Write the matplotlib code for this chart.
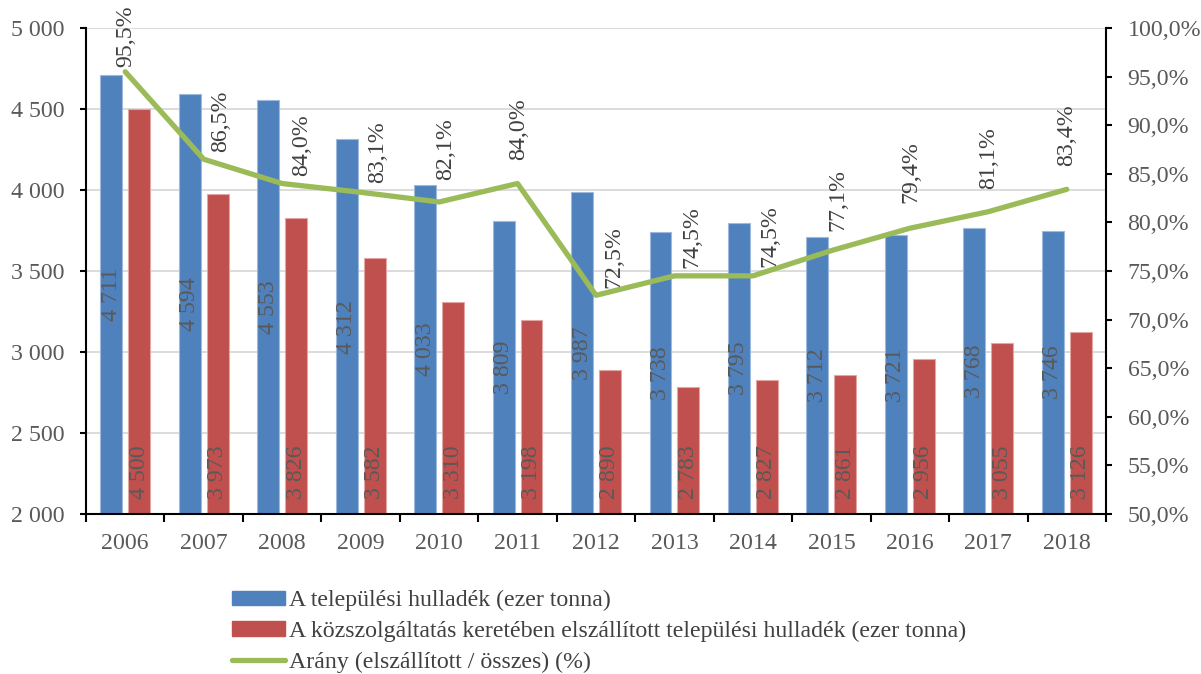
import matplotlib
matplotlib.use("Agg")
import matplotlib.pyplot as plt
import numpy as np
from matplotlib.ticker import FuncFormatter, MultipleLocator, FixedLocator
from matplotlib.patches import Patch
from matplotlib.lines import Line2D

years = ["2006", "2007", "2008", "2009", "2010", "2011", "2012",
         "2013", "2014", "2015", "2016", "2017", "2018"]
total_waste = [4711, 4594, 4553, 4312, 4033, 3809, 3987, 3738, 3795, 3712, 3721, 3768, 3746]
collected_waste = [4500, 3973, 3826, 3582, 3310, 3198, 2890, 2783, 2827, 2861, 2956, 3055, 3126]
ratio_pct = [95.5, 86.5, 84.0, 83.1, 82.1, 84.0, 72.5, 74.5, 74.5, 77.1, 79.4, 81.1, 83.4]

legend_labels = ["A települési hulladék (ezer tonna)",
                 "A közszolgáltatás keretében elszállított települési hulladék (ezer tonna)",
                 "Arány (elszállított / összes) (%)"]

# label offsets (pixels) for the percentage labels
pct_label_offsets = [(1, 5), (17, 7), (19, 8), (17, 9), (7, 22), (1, 24), (18, 7),
                     (17, 8), (17, 9), (6, 20), (1, 25), (0, 23), (0, 23)]

BLUE = "#4F81BD"
RED = "#C0504D"
GREEN = "#9BBB59"
TXT = "#595959"

plt.rcParams['font.family'] = ['Liberation Serif', 'DejaVu Serif']
FS = 17.2

fig = plt.figure(figsize=(12.01, 6.74), dpi=100)
ax = fig.add_axes([86/1201, 1 - 514/674, (1106-86)/1201, (514-28)/674])
ax2 = ax.twinx()

x = np.arange(len(years))
w = 0.28
off = 0.178

def thou(v, pos=None):
    s = f"{int(round(v)):,}".replace(",", " ")
    return s

ax.bar(x - off, total_waste, width=w, color=BLUE, edgecolor="#9DB9DD", linewidth=0.8, zorder=2)
ax.bar(x + off, collected_waste, width=w, color=RED, edgecolor="#E3A6A4", linewidth=0.8, zorder=2)

ax.set_ylim(2000, 5000)
ax.set_xlim(-0.5, len(years) - 0.5)
ax.yaxis.set_major_locator(MultipleLocator(500))
ax.yaxis.set_major_formatter(FuncFormatter(thou))
ax.grid(axis='y', color="#D9D9D9", linewidth=1.3, zorder=0)
ax.set_axisbelow(True)

ax.set_xticks(x)
ax.set_xticklabels(years)
ax.xaxis.set_minor_locator(FixedLocator(np.arange(-0.5, len(years), 1.0)))
ax.tick_params(axis='x', which='major', length=0, pad=14, labelsize=FS, labelcolor=TXT)
ax.tick_params(axis='x', which='minor', length=5.5, width=1.5, color='black', direction='out')
ax.tick_params(axis='y', which='major', length=4.5, width=1.5, color='black', pad=11,
               labelsize=FS, labelcolor=TXT, direction='out')

for sp in ['top', 'right']:
    ax.spines[sp].set_visible(False)
for sp in ['left', 'bottom']:
    ax.spines[sp].set_linewidth(1.5)
    ax.spines[sp].set_color('black')

# bar labels
for xi, v in zip(x, total_waste):
    ax.text(xi - off, (2000 + v) / 2, thou(v), rotation=90, ha='center', va='center',
            fontsize=FS, color=TXT, zorder=4)
for xi, v in zip(x, collected_waste):
    ax.annotate(thou(v), (xi + off, 2000), xytext=(0, 15), textcoords='offset pixels',
                rotation=90, ha='center', va='bottom', fontsize=FS, color=TXT, zorder=4)

# ratio line
ax2.plot(x, ratio_pct, color=GREEN, linewidth=3.8, solid_joinstyle='round',
         solid_capstyle='round', zorder=5)
ax2.set_ylim(50, 100)
ax2.yaxis.set_major_locator(MultipleLocator(5))
ax2.yaxis.set_major_formatter(FuncFormatter(lambda v, p: f"{v:.1f}%".replace(".", ",")))
ax2.tick_params(axis='y', length=4.5, width=1.5, color='black', pad=11,
                labelsize=FS, labelcolor=TXT, direction='out')
for sp in ['top', 'left', 'bottom']:
    ax2.spines[sp].set_visible(False)
ax2.spines['right'].set_linewidth(1.5)
ax2.spines['right'].set_color('black')

for xi, v, (dx, dy) in zip(x, ratio_pct, pct_label_offsets):
    ax2.annotate(f"{v:.1f}%".replace(".", ","), (xi, v), xytext=(dx, dy),
                 textcoords='offset pixels', rotation=90, ha='center', va='bottom',
                 fontsize=FS, color="#404040", zorder=6)

handles = [Patch(facecolor=BLUE, edgecolor=BLUE),
           Patch(facecolor=RED, edgecolor=RED),
           Line2D([0], [0], color=GREEN, linewidth=3.8, solid_capstyle='round')]
leg = fig.legend(handles, legend_labels, loc='upper left',
                 bbox_to_anchor=(232/1201, 1 - 590/674), frameon=False,
                 fontsize=FS, handlelength=2.2, handletextpad=0.2, handleheight=0.55,
                 labelspacing=0.4, borderpad=0, borderaxespad=0)
for t in leg.get_texts():
    t.set_color("#404040")

fig.savefig("out.png", dpi=100)
